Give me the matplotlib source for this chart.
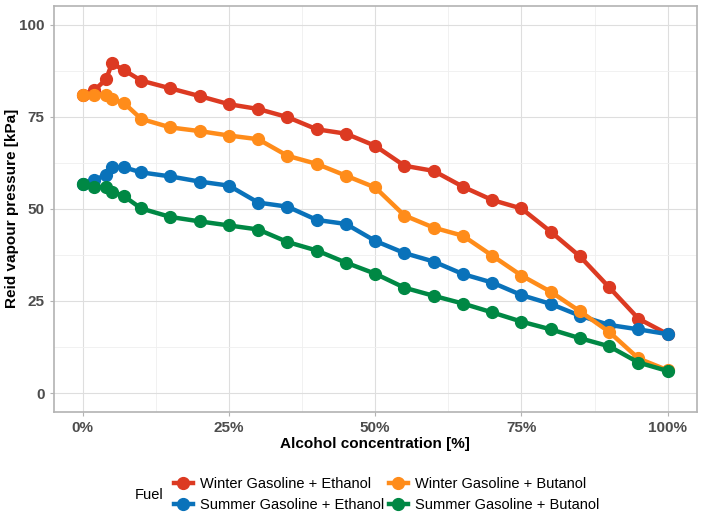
import matplotlib
matplotlib.use("Agg")
import matplotlib.pyplot as plt
from matplotlib.lines import Line2D
from matplotlib.ticker import FuncFormatter

plt.rcParams['font.family'] = ['Liberation Sans', 'DejaVu Sans']

# --- data ---
conc = [0, 2, 4, 5, 7, 10, 15, 20, 25, 30, 35, 40, 45, 50, 55, 60, 65, 70, 75, 80, 85, 90, 95, 100]

winter_ethanol = [81.0, 82.2, 85.2, 89.5, 87.7, 84.8, 82.7, 80.6, 78.4, 77.1, 74.9, 71.6,
                  70.4, 67.1, 61.7, 60.3, 56.0, 52.4, 50.1, 43.8, 37.1, 28.7, 20.2, 16.0]
summer_ethanol = [56.8, 57.9, 59.2, 61.3, 61.3, 59.9, 58.8, 57.4, 56.3, 51.7, 50.6, 47.0,
                  45.9, 41.3, 38.0, 35.7, 32.3, 30.0, 26.6, 24.2, 21.0, 18.5, 17.3, 16.0]
winter_butanol = [80.9, 80.9, 80.9, 79.7, 78.8, 74.4, 72.1, 71.1, 69.9, 68.9, 64.4, 62.2,
                  59.0, 55.8, 48.2, 44.9, 42.7, 37.3, 31.9, 27.5, 22.2, 16.6, 9.4, 6.2]
summer_butanol = [56.8, 55.8, 56.0, 54.7, 53.5, 50.1, 47.8, 46.6, 45.5, 44.4, 41.0, 38.7,
                  35.4, 32.4, 28.6, 26.4, 24.3, 21.9, 19.4, 17.3, 14.9, 12.7, 8.3, 6.0]

series = [
    ("Winter Gasoline + Ethanol", winter_ethanol, "#DC3A22"),
    ("Summer Gasoline + Ethanol", summer_ethanol, "#0A72BA"),
    ("Winter Gasoline + Butanol", winter_butanol, "#FF8C1A"),
    ("Summer Gasoline + Butanol", summer_butanol, "#008844"),
]

x_ticks = [0, 25, 50, 75, 100]
y_ticks = [0, 25, 50, 75, 100]

fig = plt.figure(figsize=(7.04, 5.17), dpi=100)
ax = fig.add_axes([0.076, 0.204, 0.914, 0.784])

for name, vals, col in series:
    ax.plot(conc, vals, color=col, lw=3.2, marker='o', ms=8.5, label=name,
            solid_capstyle='butt')

ax.set_xlim(-5, 105)
ax.set_ylim(-5, 105)
ax.set_xticks(x_ticks)
ax.set_yticks(y_ticks)
ax.set_xticks([12.5, 37.5, 62.5, 87.5], minor=True)
ax.set_yticks([12.5, 37.5, 62.5, 87.5], minor=True)
ax.xaxis.set_major_formatter(FuncFormatter(lambda v, p: f"{int(v)}%"))

ax.grid(which='major', color='#dedede', lw=0.8)
ax.grid(which='minor', color='#efefef', lw=0.6)
ax.set_axisbelow(True)
for s in ax.spines.values():
    s.set_color('#b3b3b3')
    s.set_linewidth(1.2)

ax.tick_params(which='major', length=3, color='#b3b3b3', labelsize=11, labelcolor='#4d4d4d')
ax.tick_params(which='minor', length=0)
for lab in ax.get_xticklabels() + ax.get_yticklabels():
    lab.set_fontweight('bold')

ax.set_xlabel("Alcohol concentration [%]", fontsize=11, fontweight='bold', labelpad=1.5)
ax.set_ylabel("Reid vapour pressure [kPa]", fontsize=11, fontweight='bold', labelpad=0)

handles = [Line2D([], [], color=c, lw=3.2, marker='o', ms=8.5) for _, _, c in series]
labels = [n for n, _, _ in series]
fig.legend(handles, labels, ncol=2, loc='center', bbox_to_anchor=(0.549, 0.043),
           frameon=False, fontsize=10.5, handlelength=1.3, handletextpad=0.5,
           columnspacing=0.3, labelspacing=0.45)
fig.text(0.232, 0.043, "Fuel", fontsize=10.5, va='center', ha='right')

fig.savefig("out.png", dpi=100)
